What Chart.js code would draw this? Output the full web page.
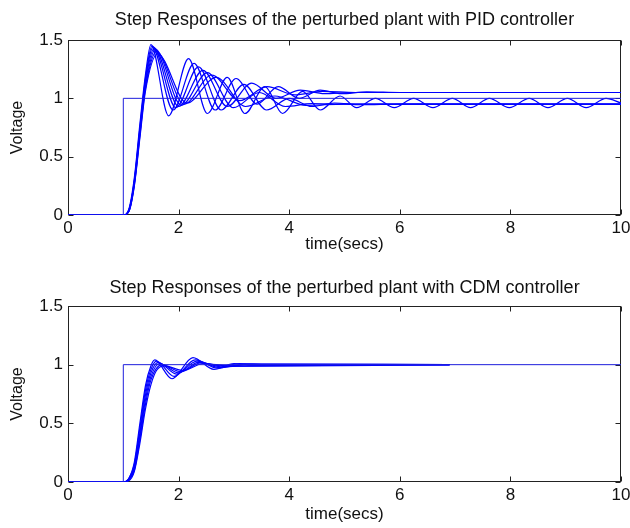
<!DOCTYPE html>
<html lang="en">
<head>
<meta charset="UTF-8">
<title>Step Responses</title>
<script src="https://cdn.jsdelivr.net/npm/chart.js"></script>
<style>
  body { margin: 0; background: #fff; }
  .plot { position: absolute; left: 0; width: 630px; }
</style>
</head>
<body>
<div class="plot" style="top:0;height:262px"><canvas id="pid" width="630" height="262"></canvas></div>
<div class="plot" style="top:262px;height:266px"><canvas id="cdm" width="630" height="266"></canvas></div>

<script>
// axis ticks
const xTicks = [0, 2, 4, 6, 8, 10];
const yTicks = [0, 0.5, 1, 1.5];

// reference step (both plots)
const stepT = [0, 1, 10];
const stepV = [0, 1, 1];

// PID controller, perturbed plants
const pidT1 = [0, 1.0, 1.1, 1.2, 1.3, 1.4, 1.5, 1.82, 2.18, 2.52, 2.88, 3.2, 3.56, 3.88, 4.24, 4.56, 4.92, 5.22, 5.56, 5.9, 6.25, 6.6, 6.95, 7.28, 7.62, 7.98, 8.34, 8.68, 9.03, 9.37, 9.73, 10];
const pidV1 = [0, 0, 0.05, 0.32, 0.78, 1.2, 1.46, 0.85, 1.34, 0.87, 1.18, 0.87, 1.1, 0.87, 1.06, 0.9, 1.02, 0.92, 1.0, 0.92, 1.0, 0.92, 1.0, 0.92, 1.0, 0.92, 1.0, 0.92, 1.0, 0.92, 1.0, 0.96];
const pidT2 = [0, 1.0, 1.1, 1.2, 1.3, 1.4, 1.52, 1.9, 2.28, 2.66, 3.04, 3.42, 3.8, 4.18, 4.56, 4.94, 5.4, 6, 10];
const pidV2 = [0, 0, 0.04, 0.3, 0.75, 1.17, 1.45, 0.9, 1.3, 0.9, 1.17, 0.95, 1.1, 1.0, 1.07, 1.04, 1.055, 1.05, 1.05];
const pidT3 = [0, 1.0, 1.1, 1.2, 1.3, 1.4, 1.54, 1.95, 2.36, 2.77, 3.18, 3.59, 4.0, 4.41, 4.82, 5.3, 6, 10];
const pidV3 = [0, 0, 0.04, 0.29, 0.73, 1.15, 1.44, 0.92, 1.27, 0.9, 1.12, 0.9, 1.0, 0.93, 0.96, 0.945, 0.95, 0.95];
const pidT4 = [0, 1.0, 1.1, 1.2, 1.3, 1.4, 1.56, 2.0, 2.44, 2.88, 3.32, 3.76, 4.2, 4.64, 5.1, 6, 10];
const pidV4 = [0, 0, 0.04, 0.28, 0.72, 1.13, 1.43, 0.93, 1.24, 0.93, 1.13, 1.0, 1.07, 1.04, 1.05, 1.05, 1.05];
const pidT5 = [0, 1.0, 1.1, 1.2, 1.3, 1.4, 1.58, 2.05, 2.52, 2.99, 3.46, 3.93, 4.4, 5, 10];
const pidV5 = [0, 0, 0.03, 0.27, 0.7, 1.1, 1.42, 0.94, 1.22, 0.92, 1.05, 0.93, 0.955, 0.95, 0.95];
const pidT6 = [0, 1.0, 1.1, 1.2, 1.3, 1.4, 1.6, 2.1, 2.6, 3.1, 3.6, 4.1, 4.6, 5.2, 10];
const pidV6 = [0, 0, 0.03, 0.26, 0.68, 1.08, 1.4, 0.95, 1.2, 0.98, 1.1, 1.03, 1.06, 1.05, 1.05];
const pidT7 = [0, 1.0, 1.1, 1.2, 1.3, 1.4, 1.62, 2.15, 2.68, 3.21, 3.74, 4.3, 5, 10];
const pidV7 = [0, 0, 0.03, 0.25, 0.66, 1.06, 1.38, 0.96, 1.18, 0.93, 1.02, 0.94, 0.95, 0.95];

// CDM controller, perturbed plants
const cdmT1 = [0, 1.0, 1.1, 1.2, 1.3, 1.4, 1.5, 1.57, 1.88, 2.26, 2.64, 3.0, 3.4, 3.8, 6.9];
const cdmV1 = [0, 0, 0.03, 0.17, 0.5, 0.82, 0.99, 1.04, 0.88, 1.06, 0.96, 1.01, 0.995, 1.0, 1.0];
const cdmT2 = [0, 1.0, 1.1, 1.2, 1.3, 1.4, 1.5, 1.6, 1.92, 2.3, 2.7, 3.1, 3.6, 6.9];
const cdmV2 = [0, 0, 0.03, 0.15, 0.46, 0.78, 0.96, 1.03, 0.9, 1.04, 0.97, 1.01, 1.0, 1.0];
const cdmT3 = [0, 1.0, 1.1, 1.2, 1.3, 1.4, 1.5, 1.63, 1.96, 2.33, 2.75, 3.2, 6.9];
const cdmV3 = [0, 0, 0.02, 0.13, 0.42, 0.74, 0.93, 1.02, 0.92, 1.03, 0.975, 1.005, 1.0];
const cdmT4 = [0, 1.0, 1.1, 1.2, 1.3, 1.4, 1.5, 1.66, 2.0, 2.36, 2.8, 3.3, 6.9];
const cdmV4 = [0, 0, 0.02, 0.12, 0.39, 0.7, 0.9, 1.01, 0.93, 1.02, 0.98, 1.005, 1.0];
const cdmT5 = [0, 1.0, 1.1, 1.2, 1.3, 1.4, 1.5, 1.7, 2.04, 2.4, 2.85, 6.9];
const cdmV5 = [0, 0, 0.02, 0.1, 0.36, 0.66, 0.87, 1.0, 0.94, 1.015, 0.985, 1.0];
const cdmT6 = [0, 1.0, 1.1, 1.2, 1.3, 1.4, 1.5, 1.6, 1.74, 2.08, 2.45, 2.9, 6.9];
const cdmV6 = [0, 0, 0.01, 0.09, 0.33, 0.62, 0.83, 0.95, 0.99, 0.95, 1.01, 0.99, 1.0];

const FONT = "'Liberation Sans', Arial, sans-serif";
const BLUE = 'rgb(0,0,255)';

function pts(t, v) {
    return t.map((x, i) => ({ x: x, y: v[i] }));
}

function curve(t, v) {
    return { data: pts(t, v), borderColor: BLUE, borderWidth: 1.2, pointRadius: 0, cubicInterpolationMode: 'monotone', fill: false };
}

function stepLine() {
    // horizontal first, then up at t = 1
    return { data: pts(stepT, stepV), borderColor: 'rgb(30,30,220)', borderWidth: 1, pointRadius: 0, stepped: 'before', fill: false };
}

// matlab style box with inward ticks on all four sides, title over the axes
const matlabBox = {
    id: 'matlabBox',
    beforeDatasetsDraw(chart, args, opts) {
        const { ctx, chartArea: a, scales: { x, y } } = chart;
        const L = Math.round(a.left) + 0.5, R = Math.round(a.right) - 0.5;
        const T = Math.round(a.top) + 0.5, B = Math.round(a.bottom) - 0.5;
        ctx.save();
        ctx.strokeStyle = '#222';
        ctx.lineWidth = 1;
        ctx.strokeRect(L, T, R - L, B - T);
        ctx.beginPath();
        x.ticks.forEach(t => {
            const px = Math.round(x.getPixelForValue(t.value)) + 0.5;
            ctx.moveTo(px, B); ctx.lineTo(px, B - 5);
            ctx.moveTo(px, T); ctx.lineTo(px, T + 5);
        });
        y.ticks.forEach(t => {
            const py = Math.round(y.getPixelForValue(t.value)) + 0.5;
            ctx.moveTo(L, py); ctx.lineTo(L + 5, py);
            ctx.moveTo(R, py); ctx.lineTo(R - 5, py);
        });
        ctx.stroke();

        ctx.fillStyle = '#111';
        ctx.font = '18px ' + FONT;
        ctx.textAlign = 'center';
        ctx.textBaseline = 'middle';
        ctx.fillText(opts.text, (a.left + a.right) / 2, opts.y);
        ctx.restore();
    }
};

function makeChart(id, title, datasets, lay) {
    return new Chart(document.getElementById(id), {
        type: 'line',
        data: { datasets: datasets },
        plugins: [matlabBox],
        options: {
            responsive: false,
            animation: false,
            events: [],
            layout: { padding: { left: 0, right: 9, top: lay.top, bottom: 0 } },
            plugins: {
                legend: { display: false },
                tooltip: { enabled: false },
                title: { display: false },
                matlabBox: { text: title, y: lay.titleY }
            },
            scales: {
                x: {
                    type: 'linear', min: 0, max: 10,
                    afterBuildTicks: s => { s.ticks = xTicks.map(v => ({ value: v })); },
                    afterFit: s => { s.height = lay.xHeight; s.paddingLeft = 0; s.paddingRight = 0; },
                    grid: { display: false, drawTicks: false },
                    border: { display: false },
                    ticks: { color: '#111', padding: 3, autoSkip: false, maxRotation: 0, font: { family: FONT, size: 17 }, callback: v => String(v) },
                    title: { display: true, text: 'time(secs)', color: '#111', font: { family: FONT, size: 17 }, padding: { top: 0, bottom: lay.xTitleBottom } }
                },
                y: {
                    min: 0, max: 1.5,
                    afterBuildTicks: s => { s.ticks = yTicks.map(v => ({ value: v })); },
                    afterFit: s => { s.width = 68; },
                    grid: { display: false, drawTicks: false },
                    border: { display: false },
                    ticks: { color: '#111', padding: 5, autoSkip: false, font: { family: FONT, size: 17 }, callback: v => String(v) },
                    title: { display: true, text: 'Voltage', color: '#111', font: { family: FONT, size: 16 }, padding: { top: 8.4, bottom: 0 } }
                }
            }
        }
    });
}

makeChart('pid', 'Step Responses of the perturbed plant with PID controller', [
    stepLine(),
    curve(pidT1, pidV1), curve(pidT2, pidV2), curve(pidT3, pidV3), curve(pidT4, pidV4),
    curve(pidT5, pidV5), curve(pidT6, pidV6), curve(pidT7, pidV7)
], { top: 40, titleY: 20, xHeight: 47, xTitleBottom: 7.8 });

makeChart('cdm', 'Step Responses of the perturbed plant with CDM controller', [
    stepLine(),
    curve(cdmT1, cdmV1), curve(cdmT2, cdmV2), curve(cdmT3, cdmV3),
    curve(cdmT4, cdmV4), curve(cdmT5, cdmV5), curve(cdmT6, cdmV6)
], { top: 44, titleY: 26, xHeight: 46, xTitleBottom: 3.8 });
</script>
</body>
</html>
